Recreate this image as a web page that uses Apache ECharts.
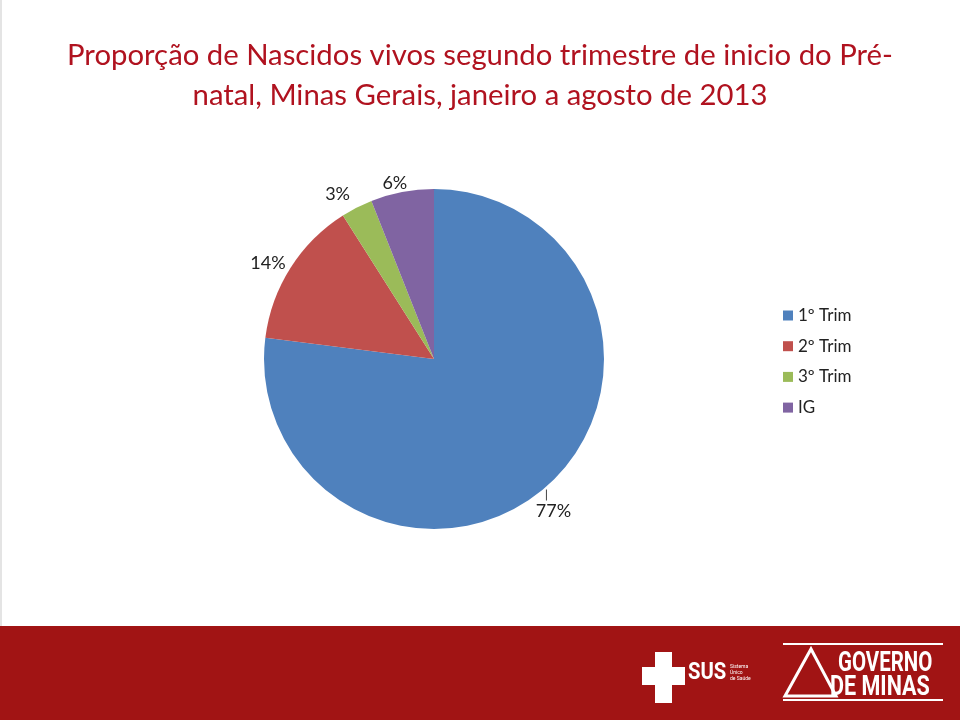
<!DOCTYPE html>
<html><head><meta charset="utf-8">
<script src="https://cdn.jsdelivr.net/npm/echarts@6/dist/echarts.min.js"></script>
<style>html,body{margin:0;padding:0;background:#fff}#c{width:960px;height:720px}</style>
</head><body><div id="c"></div>
<script>
const categories = ['1º Trim', '2º Trim', '3º Trim', 'IG'];
const values = [77, 14, 3, 6];
const colors = ['#4f81bd', '#c0504d', '#9bbb59', '#8064a2'];
const titleLines = ['Proporção de Nascidos vivos segundo trimestre de inicio do Pré-', 'natal, Minas Gerais, janeiro a agosto de 2013'];

const chart = echarts.init(document.getElementById('c'));
const white = '#ffffff';
chart.setOption({
  backgroundColor: '#ffffff',
  animation: false,
  title: {
    text: titleLines.join('\n'),
    left: 'center', top: 31,
    textStyle: { fontFamily: 'Lato', fontSize: 29.3, fontWeight: 'normal', color: '#b0121f', lineHeight: 40 }
  },
  legend: {
    orient: 'vertical', left: 783, top: 307, itemWidth: 10, itemHeight: 10, itemGap: 13.7,
    padding: 0, icon: 'rect',
    textStyle: { fontFamily: 'Lato', fontSize: 17, color: '#222' },
    data: categories
  },
  series: [{
    type: 'pie',
    center: [434, 359], radius: 170,
    startAngle: 90, clockwise: true,
    data: categories.map((n, i) => ({
      name: n, value: values[i], itemStyle: { color: colors[i] },
      labelLine: { show: i === 0 }
    })),
    label: { position: 'outside', formatter: '{c}%', fontFamily: 'Lato', fontSize: 18, color: '#222' },
    labelLine: { length: 10, length2: 0, lineStyle: { color: '#444', width: 1 } },
    labelLayout: function (p) {
      if (p.dataIndex === 0 && p.labelLinePoints) {
        const p0 = p.labelLinePoints[0];
        return {
          x: p0[0] + 7, y: p0[1] + 16, align: 'center', verticalAlign: 'top',
          labelLinePoints: [[p0[0], p0[1] + 3], [p0[0], p0[1] + 14]]
        };
      }
      if (p.dataIndex === 1) return { dx: 4, dy: 1 };
      if (p.dataIndex === 2) return { dx: 6, dy: -8 };
      if (p.dataIndex === 3) return { dx: 12, dy: 1 };
      return {};
    },
    emphasis: { disabled: true }
  }],
  graphic: [
    { type: 'rect', shape: { x: 0, y: 0, width: 2, height: 626 }, style: { fill: '#e4e4e4' } },
    { type: 'rect', shape: { x: 0, y: 626, width: 960, height: 94 }, style: { fill: '#a11414' } },
    // SUS cross
    { type: 'rect', shape: { x: 655, y: 652, width: 17, height: 51 }, style: { fill: white } },
    { type: 'rect', shape: { x: 642, y: 667, width: 43, height: 18 }, style: { fill: white } },
    { type: 'text', x: 688, y: 662, scaleX: 0.88, style: { text: 'SUS', fill: white, font: 'bold 23px Roboto' } },
    { type: 'text', x: 730, y: 664, style: { text: 'Sistema\nÚnico\nde Saúde', fill: white, font: '5px Roboto', lineHeight: 6 } },
    // Governo de Minas
    { type: 'line', shape: { x1: 783, y1: 644, x2: 943, y2: 644 }, style: { stroke: white, lineWidth: 2 } },
    { type: 'line', shape: { x1: 783, y1: 700, x2: 943, y2: 700 }, style: { stroke: white, lineWidth: 2 } },
    { type: 'polygon', shape: { points: [[785, 696], [811, 649], [836, 696]] }, style: { fill: 'none', stroke: white, lineWidth: 3 } },
    { type: 'text', x: 838, y: 650, scaleX: 0.73, style: { text: 'GOVERNO', fill: white, font: 'bold 28px Roboto' } },
    { type: 'text', x: 830, y: 674, scaleX: 0.77, style: { text: 'DE MINAS', fill: white, font: 'bold 28px Roboto' } }
  ]
});
</script></body></html>
